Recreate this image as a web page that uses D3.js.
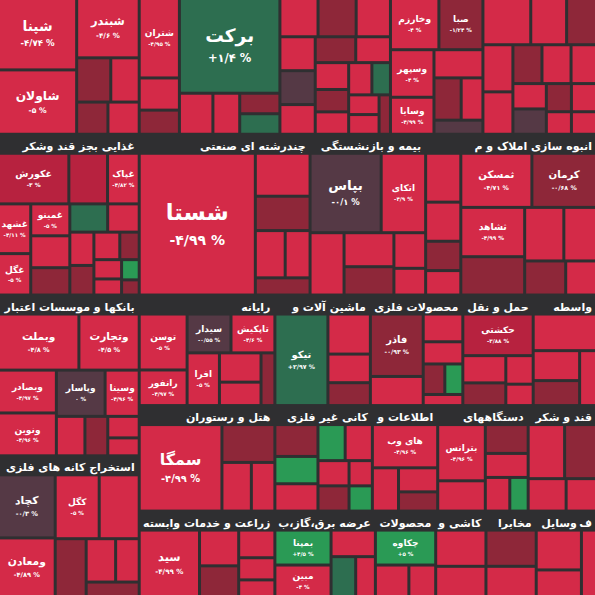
<!DOCTYPE html><html><head><meta charset="utf-8">
<script src="https://cdn.jsdelivr.net/npm/d3@7"></script>
<style>body{margin:0;background:#2f2f31}svg{display:block}</style></head><body><svg id="c" width="595" height="595"></svg>
<script>
const sectorNames=["فراورده های نفتی","غذایی بجز قند وشکر","بانکها و موسسات اعتباری","استخراج کانه های فلزی","","مواد و محصولات دارویی","شیمیایی","سرمایه گذاریها","سایر","چندرشته ای صنعتی","بیمه و بازنشستگی","","انبوه سازی املاک و مستغلات","رایانه","ماشین آلات و","محصولات فلزی","حمل و نقل","واسطه","هتل و رستوران","کانی غیر فلزی","اطلاعات و","دستگاههای","قند و شکر","زراعت و خدمات وابسته","عرضه برق،گاز،بخار و","محصولات","کاشی و","مخابرات","وسایل","فنی و"];
const sectorGroup=["L","L","L","L","A","A","A","A","A","B","B","B","B","C","C","C","C","C","D","D","D","D","D","E","E","E","E","E","E","E"];
const sectorWidth=[140,140,140,140,40,100,110,92,113,170,115,35,135,135,95,92,70,63,135,97,65,90,68,135,100,60,50,50,45,15];
const rowHeight={A:155,B:160,C:110,D:105,E:85};
const leftHeight=[155,160,160,140];
const stockNames=[
["شبندر","شپنا","شاولان","","","",""],
["غکورش","غپاک","غشهد","غگل","غمینو","","","","","","","","","","","","",""],
["وبملت","وپاسار","وبصادر","ونوین","وتجارت","وسینا","","","",""],
["کچاد","ومعادن","کگل","","","","",""],
["شتران","",""],
["برکت","","","",""],
["","","","","","","","","","","","","","","",""],
["صبا","وسپهر","وخارزم","وسایا","","","",""],
["","","","","","","","","","","","","",""],
["شستا","","","","",""],
["بپاس","اتکای","","","","",""],
["","","",""],
["کرمان","ثمسکن","ثشاهد","","","","",""],
["توسن","رانفور","سیدار","تاپکیش","افرا","","",""],
["تیکو","","",""],
["فاذر","","","","","",""],
["حکشتی","","","",""],
["","","",""],
["سمگا","","",""],
["","","","","","","","",""],
["های وب","","",""],
["بترانس","","","","",""],
["","","",""],
["سید","","","","",""],
["بمپنا","مبین","","",""],
["چکاوه","",""],
["",""],["",""],["",""],[""]];
const stockSizes=[
[30,45,40,12,10,8,8],
[40,18,18,15,14,22,14,12,12,10,9,8,8,6,6,5,4,3],
[40,20,22,22,30,14,10,8,6,5],
[28,26,22,20,14,10,8,6],
[50,20,15],
[70,10,8,6,6],
[10,10,9,8,8,7,7,6,6,5,5,5,4,4,4,3],
[20,18,22,14,12,10,8,6],
[16,12,10,10,9,8,8,7,6,6,5,5,4,4],
[70,10,8,6,5,4],
[40,25,15,12,10,8,6],
[10,8,6,5],
[20,22,18,14,12,10,8,6],
[22,14,14,14,14,10,8,6],
[40,14,10,8],
[30,14,10,8,6,5,4],
[30,12,10,8,6],
[20,12,10,8],
[50,14,10,8],
[14,12,12,10,10,8,8,6,6],
[30,12,10,8],
[26,14,12,10,8,6],
[16,14,10,8],
[40,14,12,10,8,6],
[20,18,12,10,8],
[20,10,8],[12,10],[12,10],[12,8],[10]];
const stockChanges=[
[-4.6,-4.74,-5,-2,-4,-1,-4.5],
[-3,-4.82,-4.11,-5,-5,-2.5,-4,-1.5,2,-4,-4,-1,-4,-1.5,-4,-4,4,-1],
[-4.8,0,-4.97,-4.96,-4.5,-4.96,-4,-1,-4,-4],
[-0.3,-4.89,-5,-4,-2,-4,-4,-1],
[-4.95,-4,-2],
[1.4,-4,-4,-2,1.5],
[-4,-2,-4,-4,0,-4,-2,-4,-4,-1,-4,-4,2,-4,-4,-2],
[-1.24,-4,-4,-4.99,-4.9,-1,-4,0],
[-4.99,-4,-2,-4,-4,-1,-4,-4,-4,0,-2,-4,-4,-4],
[-4.99,-4,-2,-4,-4,-1],
[-0.1,-4.9,-4,-4,-2,-4,-4],
[-4,-4,-2,-4],
[-0.68,-4.71,-4.99,-2,-4,-4,-1,-4],
[-5,-4.97,-0.55,-4.6,-5,-4,-4,-2],
[2.97,-4,-4,-2],
[-0.93,-4,-4,-4,-1,4,-4],
[-3.88,-4,-2,-4,-4],
[-4,-4,-2,-4],
[-4.99,-1,-4,-4],
[-1,3,-4,3,-4,-4,-2,-4,4],
[-4.96,-4,-4,-2],
[-4.96,-4,-2,-4,-4,3],
[-4,-2,-4,-4],
[-4.99,-4,-2,-4,-4,-4],
[4.5,-4,-4,2.5,-4],
[5,-4,-4],[-4,-4],[-1,-4],[-4,-4],[-4]];

const W=595,H=615,OFF=20;
function sectorNode(i,area){
  const tot=d3.sum(stockSizes[i]);
  return {name:sectorNames[i],sector:true,children:stockNames[i].map((n,j)=>({name:n,value:stockSizes[i][j]/tot*area,chg:stockChanges[i][j]}))};
}
const left={tile:"slice",children:[0,1,2,3].map((i,k)=>sectorNode(i,140*leftHeight[k]))};
const rows=["A","B","C","D","E"].map(r=>({tile:"dice",children:sectorGroup.map((g,i)=>g===r?i:-1).filter(i=>i>=0).map(i=>sectorNode(i,sectorWidth[i]*rowHeight[r]))}));
const right={tile:"slice",children:[...rows]};
const rootData={tile:"dice",children:[left,right]};
const root=d3.hierarchy(rootData).sum(d=>d.children?0:d.value)
  .sort((a,b)=>(a.parent&&a.parent.data.sector)?b.value-a.value:0);
function tile(node,x0,y0,x1,y1){
  const t=node.data.tile;
  if(t==="dice")d3.treemapDice(node,x0,y0,x1,y1);
  else if(t==="slice")d3.treemapSlice(node,x0,y0,x1,y1);
  else d3.treemapSquarify.ratio(1)(node,x0,y0,x1,y1);
}
d3.treemap().tile(tile).size([W,H]).paddingInner(3)
  .paddingTop(d=>d.data.sector?19:0)(root);

const fa=d3.format(".2~f");
const toFa=s=>s.replace(/[0-9]/g,c=>"۰۱۲۳۴۵۶۷۸۹"[c]).replace(".","/");
function color(c){
  if(c>=3)return "#2a9a55";if(c>=0.5)return "#2d6e50";if(c>-0.6)return "#553945";
  if(c>-2.5)return "#8e2739";if(c>-3.9)return "#b7223f";return "#d42a48";
}
const svg=d3.select("#c").append("g").attr("transform",`translate(0,${-OFF})`);
const FONT="DejaVu Sans, sans-serif";
root.descendants().filter(d=>d.data.sector&&d.data.name&&d.y0>OFF).forEach(s=>{
  const maxW=s.x1-s.x0-4;
  const t=svg.append("text").attr("x",s.x1-3).attr("y",s.y0+14)
    .attr("text-anchor","end").attr("fill","#fff").attr("font-family",FONT).attr("font-weight","bold")
    .attr("font-size",11).text(s.data.name);
  let str=s.data.name;
  while(str.length>1&&t.node().getComputedTextLength()>maxW){
    str=str.slice(0,-1).trimEnd();t.text(str);
  }
});
const leaves=root.leaves();
const g=svg.selectAll("g.l").data(leaves).join("g").attr("transform",d=>`translate(${d.x0},${d.y0})`);
g.append("rect").attr("width",d=>Math.max(0,d.x1-d.x0)).attr("height",d=>Math.max(0,d.y1-d.y0)).attr("fill",d=>color(d.data.chg));
g.filter(d=>d.data.name&&d.x1-d.x0>28&&d.y1-d.y0>28).each(function(d){
  const w=d.x1-d.x0,h=d.y1-d.y0,fs=Math.max(9,Math.min(24,Math.min(w,h)/5));
  const s=d3.select(this);
  s.append("text").attr("x",w/2).attr("y",h/2-fs*0.2).attr("text-anchor","middle").attr("fill","#fff")
    .attr("font-family",FONT).attr("font-weight","bold").attr("font-size",fs).text(d.data.name);
  const c=d.data.chg;
  s.append("text").attr("x",w/2).attr("y",h/2+fs*0.9).attr("text-anchor","middle").attr("fill","#fff")
    .attr("font-family",FONT).attr("font-weight","bold").attr("font-size",fs*0.62)
    .text(toFa((c<0?"-":c>0?"+":"")+fa(Math.abs(c)))+" %");
});
</script></body></html>
